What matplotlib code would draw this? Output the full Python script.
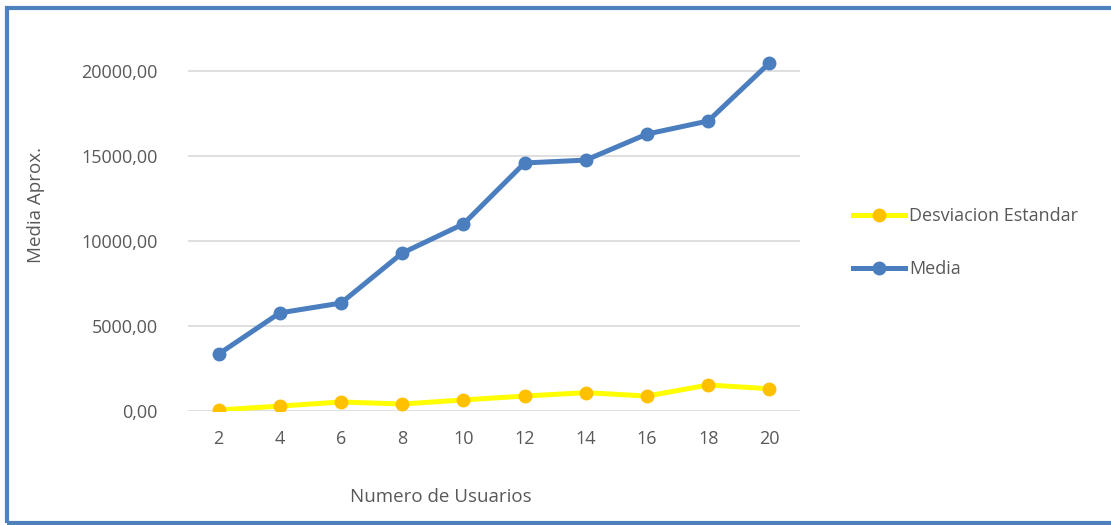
import matplotlib
matplotlib.use("Agg")
import matplotlib.pyplot as plt
from matplotlib.lines import Line2D
from matplotlib.patches import Rectangle
from matplotlib.ticker import FuncFormatter

usuarios = [2, 4, 6, 8, 10, 12, 14, 16, 18, 20]
media = [3350, 5770, 6350, 9290, 11000, 14590, 14760, 16290, 17060, 20470]
desviacion = [60, 290, 530, 410, 650, 880, 1080, 880, 1530, 1310]
y_ticks = [0, 5000, 10000, 15000, 20000]

plt.rcParams['font.family'] = ['Open Sans', 'DejaVu Sans']
text_color = '#595959'
blue = '#4A7EBF'
yellow = '#FFFF00'
orange = '#FFC000'

fig = plt.figure(figsize=(11.11, 5.25), dpi=100)
W, H = 1111, 525

# plot area in pixel coordinates
left, right, bottom, top = 188, 800, 411, 50
ax = fig.add_axes([left / W, 1 - bottom / H, (right - left) / W, (bottom - top) / H])

pos = list(range(len(usuarios)))
ax.plot(pos, desviacion, color=yellow, lw=3.6, marker='o', ms=9,
        mfc=orange, mec=orange, solid_capstyle='round', zorder=3)
ax.plot(pos, media, color=blue, lw=3.6, marker='o', ms=9,
        mfc=blue, mec=blue, solid_capstyle='round', zorder=3)

ax.set_xlim(-0.5, len(usuarios) - 0.5)
ax.set_ylim(0, (bottom - top) / 85 * 5000)
ax.set_xticks(pos)
ax.set_xticklabels([str(u) for u in usuarios])
ax.set_yticks(y_ticks)
ax.yaxis.set_major_formatter(FuncFormatter(lambda v, p: f"{v:.2f}".replace('.', ',')))
ax.tick_params(length=0, labelsize=13, labelcolor=text_color)
ax.tick_params(axis='y', pad=22)
ax.tick_params(axis='x', pad=14)
for s in ax.spines.values():
    s.set_visible(False)
for v in y_ticks:
    ax.axhline(v, color='#D9D9D9', lw=1.2, zorder=1)

fig.text(36 / W, 1 - 205 / H, 'Media Aprox.', rotation=90, ha='center', va='center',
         fontsize=13.5, color=text_color)
fig.text(441 / W, 1 - 497 / H, 'Numero de Usuarios', ha='center', va='center',
         fontsize=13.5, color=text_color)

handles = [
    Line2D([], [], color=yellow, lw=3.6, marker='o', ms=9, mfc=orange, mec=orange),
    Line2D([], [], color=blue, lw=3.6, marker='o', ms=9, mfc=blue, mec=blue),
]
fig.legend(handles, ['Desviacion Estandar', 'Media'], loc='upper left',
           bbox_to_anchor=(853 / W, 1 - 207 / H), frameon=False, fontsize=13,
           labelcolor=text_color, handlelength=2.9, handletextpad=0.2,
           labelspacing=1.95, borderaxespad=0, borderpad=0)

fig.patches.append(Rectangle((6.5 / W, 2.5 / H), 1.2, 1 - 10 / H,
                             transform=fig.transFigure, fill=False,
                             edgecolor='#4F81BD', lw=3, zorder=10))

fig.savefig('out.png', dpi=100, facecolor='white')
